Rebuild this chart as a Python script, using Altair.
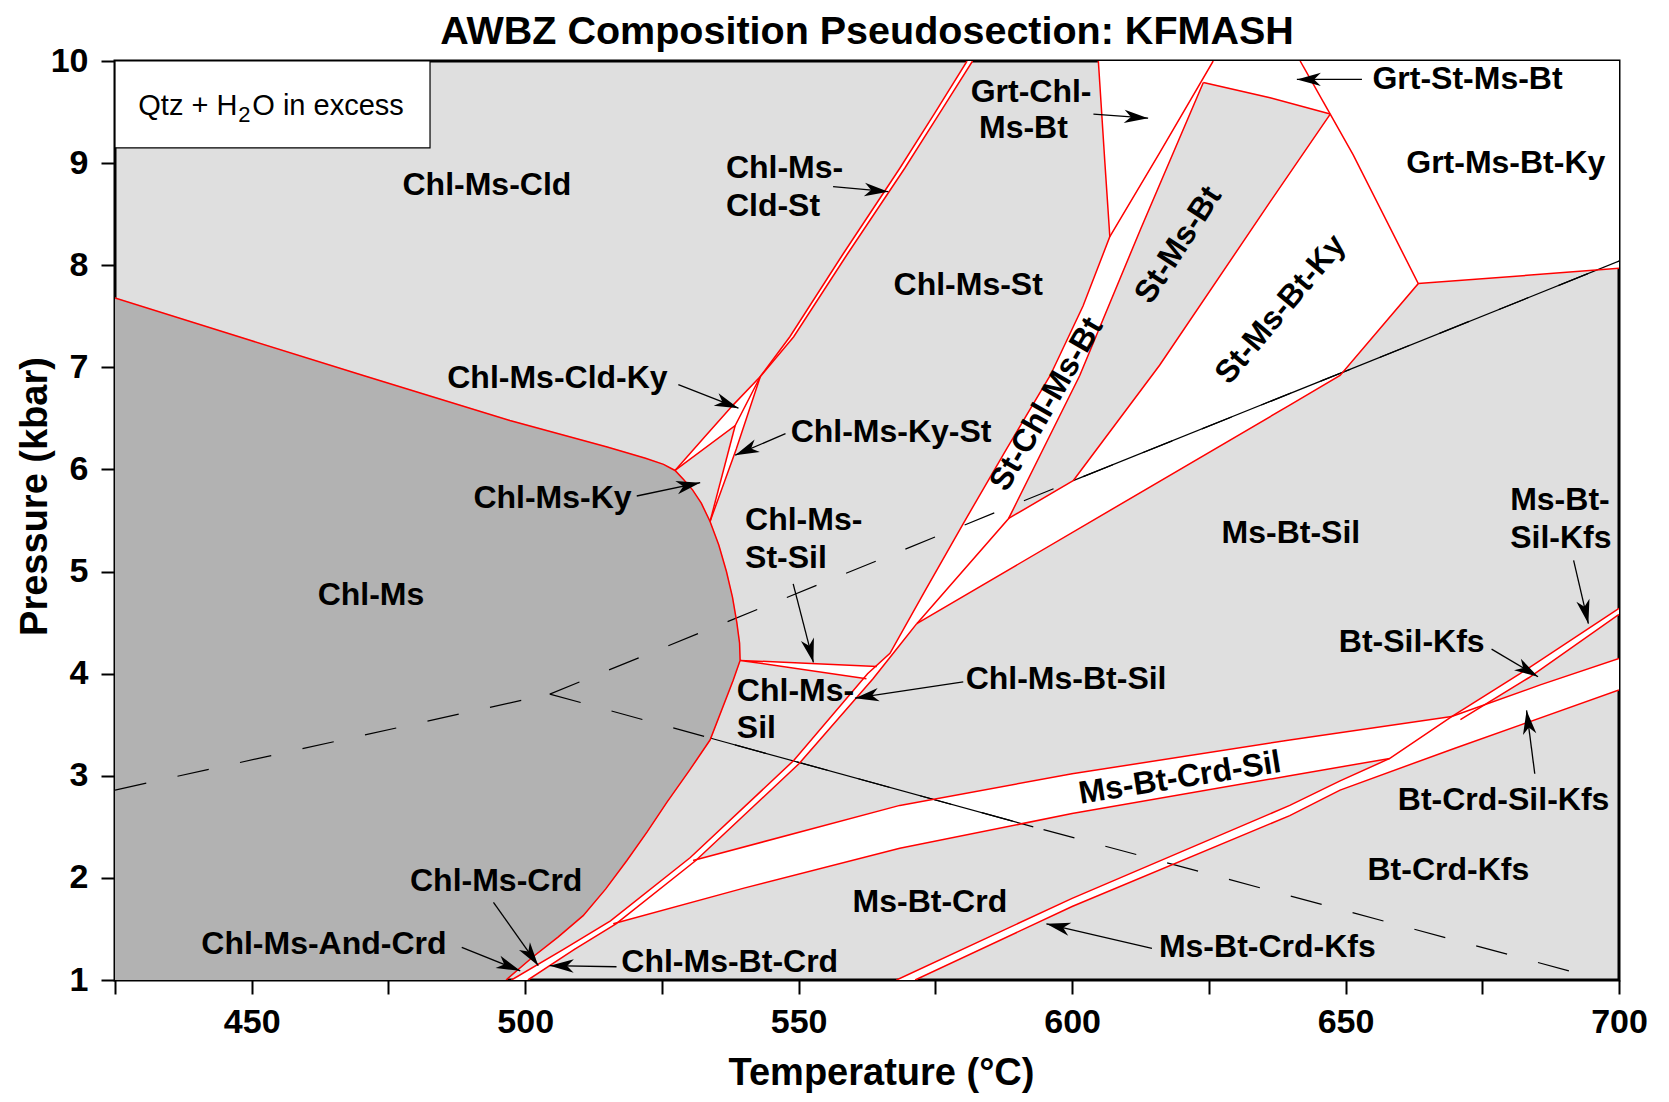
import math
import altair as alt
import pandas as pd

# ------------------------------------------------------------------ data
T_DOMAIN = [425, 700]
P_DOMAIN = [1, 10]
X_TICKS = list(range(425, 701, 25))
Y_TICKS = list(range(1, 11))
PLOT_W, PLOT_H = 1504, 919

# boundaries (T degC, P kbar)
CHL_MS_BND = [(425.0, 7.68), (450.0, 7.26), (470.4, 6.92), (497.2, 6.48), (515.0, 6.22),
              (522.0, 6.11), (525.3, 6.05), (527.4, 5.99), (529.0, 5.90), (530.6, 5.80),
              (532.2, 5.67), (533.8, 5.49), (535.4, 5.26), (536.8, 5.00), (537.9, 4.75),
              (538.7, 4.50), (539.2, 4.30), (539.3, 4.13), (538.0, 3.93), (533.8, 3.35),
              (530.0, 3.05), (525.9, 2.74), (522.3, 2.45), (518.6, 2.17), (514.7, 1.89),
              (510.6, 1.63), (506.0, 1.42), (501.5, 1.23), (496.5, 1.00)]
CLD_BND = [(527.4, 5.99), (533.0, 6.33), (538.0, 6.63), (543.0, 6.91), (548.4, 7.30),
           (558.0, 8.10), (568.5, 8.95), (575.0, 9.50), (580.8, 10.0)]
ST_BND_LOW = [(533.8, 5.49), (538.6, 6.20), (543.0, 6.91)]
ST_BND_UP = [(543.0, 6.91), (549.1, 7.30), (558.8, 8.10), (569.4, 8.95), (575.9, 9.50), (581.8, 10.0)]
KY_WEDGE = [(527.4, 5.99), (538.4, 6.43), (543.0, 6.91)]
KY_SLIVER = [(538.4, 6.43), (533.8, 5.49)]
ST_SIL_WEDGE = [(562.4, 3.95), (539.3, 4.13), (564.3, 4.07)]
BT_LEFT = [(497.5, 1.00), (507.0, 1.30), (515.6, 1.58), (530.2, 2.20), (549.1, 3.15), (562.6, 4.00),
           (566.7, 4.20), (573.0, 4.80), (580.1, 5.47), (588.0, 6.20), (596.0, 6.92), (602.0, 7.60),
           (606.9, 8.28), (606.0, 9.00), (604.8, 10.0)]
BT_RIGHT = [(500.5, 1.00), (509.0, 1.30), (516.6, 1.55), (531.2, 2.17), (550.1, 3.12), (563.6, 3.95),
            (568.5, 4.28), (571.6, 4.49)]
ST_MS_BT_LEFT = [(571.6, 4.49), (588.4, 5.52), (601.4, 6.92), (612.5, 8.35), (624.0, 9.79)]
GRT_DIAG = [(606.9, 8.28), (616.0, 9.10), (625.8, 10.0)]
ST_MS_BT_BASE = [(588.4, 5.52), (600.2, 5.89)]
ST_MS_BT_RIGHT = [(600.2, 5.89), (616.0, 7.02), (636.2, 8.62), (647.2, 9.48)]
ST_MS_BT_TOP = [(624.0, 9.79), (636.2, 9.64), (647.2, 9.48)]
GRT_ST_LINE = [(641.7, 10.0), (647.2, 9.48)]
KY_FIELD_RIGHT = [(647.2, 9.48), (651.4, 9.08), (663.3, 7.82), (649.0, 6.92), (639.8, 6.63), (571.6, 4.49)]
GRT_BASE = [(663.3, 7.82), (700.0, 7.97)]
CRD_SIL_UP = [(530.7, 2.17), (568.5, 2.71), (600.0, 3.02), (639.8, 3.35), (669.4, 3.58)]
CRD_SIL_LOW = [(516.1, 1.55), (540.0, 1.90), (568.5, 2.29), (600.0, 2.63), (639.8, 3.00), (658.1, 3.17)]
KFS_UP = [(567.9, 1.00), (600.0, 1.80), (639.8, 2.71), (649.0, 2.95), (658.1, 3.17), (669.4, 3.58),
          (681.9, 4.00), (700.0, 4.64)]
KFS_UP2 = [(671.0, 3.55), (683.5, 3.96), (700.0, 4.58)]
KFS_LOW = [(571.3, 1.00), (600.0, 1.72), (639.8, 2.61), (649.0, 2.86), (670.0, 3.27), (700.0, 3.84)]
KFS_CRD_UP = [(669.4, 3.58), (685.6, 3.89), (700.0, 4.15)]

# Al2SiO5 lines
TRIPLE = (504.5, 3.80)
KY_AND = [(425.0, 2.86), TRIPLE]
KY_SIL = [TRIPLE, (600.2, 5.89), (700.0, 8.04)]
KY_SIL_SOLID = [(600.2, 5.89), (700.0, 8.04)]
AND_SIL = [TRIPLE, (533.8, 3.37), (592.9, 2.50), (695.0, 1.03)]
AND_SIL_SOLID = [(533.8, 3.37), (592.9, 2.50)]

# labels: text, T, P, angle
LABELS_C = [
    ("Chl-Ms-Cld", 493.0, 8.79, 0), ("Grt-Chl-", 592.5, 9.70, 0), ("Ms-Bt", 591.1, 9.34, 0),
    ("Grt-St-Ms-Bt", 672.3, 9.82, 0), ("Grt-Ms-Bt-Ky", 679.3, 9.00, 0), ("Chl-Ms-St", 581.0, 7.81, 0),
    ("St-Ms-Bt", 619.4, 8.20, 303), ("St-Ms-Bt-Ky", 638.1, 7.57, 310), ("St-Chl-Ms-Bt", 595.3, 6.64, 300),
    ("Chl-Ms-Cld-Ky", 505.9, 6.90, 0), ("Chl-Ms-Ky-St", 566.9, 6.37, 0), ("Chl-Ms-Ky", 505.0, 5.72, 0),
    ("Ms-Bt-Sil", 640.0, 5.38, 0), ("Chl-Ms", 471.8, 4.77, 0), ("Bt-Sil-Kfs", 662.1, 4.31, 0),
    ("Chl-Ms-Bt-Sil", 598.9, 3.95, 0), ("Ms-Bt-Crd-Sil", 619.7, 2.98, 351),
    ("Bt-Crd-Sil-Kfs", 678.9, 2.76, 0), ("Bt-Crd-Kfs", 668.8, 2.08, 0), ("Ms-Bt-Crd", 574.0, 1.76, 0),
    ("Chl-Ms-Crd", 494.7, 1.97, 0), ("Chl-Ms-And-Crd", 463.2, 1.35, 0), ("Chl-Ms-Bt-Crd", 537.4, 1.18, 0),
    ("Ms-Bt-Crd-Kfs", 635.7, 1.32, 0),
]
LABELS_L = [
    ("Chl-Ms-", 536.7, 8.955), ("Cld-St", 536.7, 8.58),
    ("Chl-Ms-", 540.2, 5.505), ("St-Sil", 540.2, 5.135),
    ("Ms-Bt-", 680.1, 5.70), ("Sil-Kfs", 680.1, 5.325),
    ("Chl-Ms-", 538.7, 3.83), ("Sil", 538.7, 3.47),
]
BOX = (425.0, 482.6, 9.15, 10.0)
# legend text pieces: text, T (left edge), P (baseline), font size
BOX_TEXT = [("Qtz + H", 429.26, 9.468, 29), ("2", 447.55, 9.405, 22), ("O in excess", 450.10, 9.468, 29)]

# arrows: start T,P -> tip T,P
ARROWS = [
    (556.3, 8.77, 566.4, 8.72), (603.9, 9.48, 613.9, 9.44), (653.0, 9.82, 641.1, 9.82),
    (528.0, 6.83, 539.0, 6.60), (547.6, 6.35, 538.4, 6.14), (520.4, 5.74, 532.0, 5.87),
    (549.0, 4.88, 552.7, 4.11), (580.1, 3.92, 560.3, 3.76), (488.4, 1.32, 499.1, 1.09),
    (494.2, 1.76, 502.4, 1.14), (516.7, 1.13, 504.5, 1.14), (614.6, 1.31, 595.3, 1.55),
    (684.6, 3.02, 683.1, 3.64), (691.7, 5.11, 694.4, 4.49), (676.7, 4.24, 685.2, 3.97),
]

TITLE = "AWBZ Composition Pseudosection: KFMASH"
FONT = "Liberation Sans"
RED = "#ff0000"
LIGHT = "#dfdfdf"
DARK = "#b2b2b2"
LABEL_SIZE = 32

# ------------------------------------------------------------------ tables
def rev(seq):
    return list(reversed(seq))

WHITE_POLYS = {
    "cld_st": CLD_BND[3:] + rev(ST_BND_UP),
    "cld_ky": CLD_BND[:4] + [KY_WEDGE[1]],
    "ky_st": [KY_SLIVER[1], KY_SLIVER[0]] + rev(ST_BND_LOW)[:-1],
    "st_sil": ST_SIL_WEDGE,
    "big": BT_LEFT + [(700.0, 10.0)] + rev(GRT_BASE) + KY_FIELD_RIGHT[3:] + rev(BT_RIGHT)[1:],
    "crd_sil": CRD_SIL_UP + [KFS_UP[4]] + rev(CRD_SIL_LOW),
    "crd_kfs": KFS_UP[:4] + rev(KFS_LOW[:4]),
    "bcsk": KFS_UP[3:6] + KFS_CRD_UP[1:] + [(700.0, 3.84)] + rev(KFS_LOW[3:5]),
    "mbsk": KFS_UP[5:] + rev(KFS_UP2),
}
GRAY_POLYS = {"st_ms_bt": ST_MS_BT_LEFT[1:] + ST_MS_BT_TOP[1:] + rev(ST_MS_BT_RIGHT) + [ST_MS_BT_BASE[0]]}
DARK_POLYS = {"chl_ms": [(425.0, 1.0)] + CHL_MS_BND}

RED_LINES = {
    "chl_ms": CHL_MS_BND, "cld": CLD_BND, "st_low": ST_BND_LOW, "st_up": ST_BND_UP,
    "ky_wedge": KY_WEDGE, "ky_sliver": KY_SLIVER, "st_sil": ST_SIL_WEDGE,
    "bt_left": BT_LEFT, "bt_right": BT_RIGHT, "smb_left": ST_MS_BT_LEFT, "grt_diag": GRT_DIAG,
    "smb_base": ST_MS_BT_BASE, "smb_right": ST_MS_BT_RIGHT, "smb_top": ST_MS_BT_TOP,
    "grt_st": GRT_ST_LINE, "ky_right": KY_FIELD_RIGHT, "grt_base": GRT_BASE,
    "crd_up": CRD_SIL_UP, "crd_low": CRD_SIL_LOW, "kfs_up": KFS_UP, "kfs_up2": KFS_UP2,
    "kfs_low": KFS_LOW, "kfs_crd": KFS_CRD_UP,
}


def poly_df(d):
    rows = []
    for name, pts in d.items():
        for i, (t, p) in enumerate(pts):
            rows.append({"id": name, "i": i, "T": t, "P": p})
    return pd.DataFrame(rows)


xs = alt.Scale(domain=T_DOMAIN, nice=False, zero=False)
ys = alt.Scale(domain=P_DOMAIN, nice=False, zero=False)
X = alt.X("T:Q", scale=xs, axis=alt.Axis(
    values=X_TICKS, labelExpr="datum.value % 50 == 0 ? datum.label : ''",
    title="Temperature (\u00b0C)", titleX=766, titleY=104, titleBaseline="alphabetic",
    titleAlign="center", labelPadding=11, tickSize=14))
Y = alt.Y("P:Q", scale=ys, axis=alt.Axis(
    values=Y_TICKS, format="d", title="Pressure (kbar)", titleX=-69, titleY=435, titleAngle=270,
    titleBaseline="alphabetic", titleAlign="center", labelPadding=13, tickSize=14))
Xp = alt.X("T:Q", scale=xs)
Yp = alt.Y("P:Q", scale=ys)


def polys(d, color):
    return alt.Chart(poly_df(d)).mark_line(fill=color, stroke=color, strokeWidth=0.6, clip=True).encode(
        x=Xp, y=Yp, detail="id:N", order="i:Q")


base = alt.Chart(poly_df({"f": [(425, 1), (700, 10)]})).mark_point(opacity=0).encode(x=X, y=Y)

layers = [base, polys(WHITE_POLYS, "white"), polys(GRAY_POLYS, LIGHT), polys(DARK_POLYS, DARK)]

# legend box
box_df = pd.DataFrame([{"T": BOX[0], "T2": BOX[1], "P": BOX[2], "P2": BOX[3]}])
layers.append(alt.Chart(box_df).mark_rect(fill="white", stroke="black", strokeWidth=1.2).encode(
    x=Xp, x2="T2:Q", y=Yp, y2="P2:Q"))
for txt, t, p, fs in BOX_TEXT:
    layers.append(alt.Chart(pd.DataFrame([{"t": txt, "T": t, "P": p}]))
                  .mark_text(font=FONT, fontSize=fs, baseline="alphabetic", align="left", color="black")
                  .encode(x=Xp, y=Yp, text="t:N"))

# Al2SiO5 lines
dashed = poly_df({"ka": KY_AND, "ks": KY_SIL, "as": AND_SIL})
solid = poly_df({"ks": KY_SIL_SOLID, "as": AND_SIL_SOLID})
layers.append(alt.Chart(dashed).mark_line(color="black", strokeWidth=1.2, strokeDash=[32, 32], clip=True)
              .encode(x=Xp, y=Yp, detail="id:N", order="i:Q"))
layers.append(alt.Chart(solid).mark_line(color="black", strokeWidth=1.2, clip=True)
              .encode(x=Xp, y=Yp, detail="id:N", order="i:Q"))

# red reaction lines
layers.append(alt.Chart(poly_df(RED_LINES)).mark_line(color=RED, strokeWidth=1.5, clip=True)
              .encode(x=Xp, y=Yp, detail="id:N", order="i:Q"))

# arrows
sx = PLOT_W / (T_DOMAIN[1] - T_DOMAIN[0])
sy = PLOT_H / (P_DOMAIN[1] - P_DOMAIN[0])
arr_rows, head_rows = [], []
for k, (t0, p0, t1, p1) in enumerate(ARROWS):
    arr_rows.append({"id": k, "i": 0, "T": t0, "P": p0})
    arr_rows.append({"id": k, "i": 1, "T": t1, "P": p1})
    ang = math.degrees(math.atan2(-(p1 - p0) * sy, (t1 - t0) * sx)) % 360
    head_rows.append({"T": t1, "P": p1, "ang": ang})
layers.append(alt.Chart(pd.DataFrame(arr_rows)).mark_line(color="black", strokeWidth=1.3)
              .encode(x=Xp, y=Yp, detail="id:N", order="i:Q"))
layers.append(alt.Chart(pd.DataFrame(head_rows)).mark_point(
    shape="M0,0L-1,-0.28L-0.72,0L-1,0.28Z", size=2300, filled=True, color="black", opacity=1,
    strokeWidth=0).encode(x=Xp, y=Yp, angle=alt.Angle("ang:Q", scale=None)))

# labels
lc = pd.DataFrame([{"t": a, "T": b, "P": c, "ang": d} for a, b, c, d in LABELS_C])
ll = pd.DataFrame([{"t": a, "T": b, "P": c} for a, b, c in LABELS_L])
layers.append(alt.Chart(lc).mark_text(font=FONT, fontSize=LABEL_SIZE, fontWeight="bold", baseline="middle",
                                      align="center", color="black")
              .encode(x=Xp, y=Yp, text="t:N", angle=alt.Angle("ang:Q", scale=None)))
layers.append(alt.Chart(ll).mark_text(font=FONT, fontSize=LABEL_SIZE, fontWeight="bold", baseline="middle",
                                      align="left", color="black")
              .encode(x=Xp, y=Yp, text="t:N"))

# title
layers.append(alt.Chart(pd.DataFrame([{"t": TITLE}])).mark_text(
    font=FONT, fontSize=39.5, fontWeight="bold", baseline="alphabetic", align="center", color="black")
    .encode(x=alt.value(752), y=alt.value(-17), text="t:N"))

chart = alt.layer(*layers).properties(
    width=PLOT_W, height=PLOT_H, autosize=alt.AutoSizeParams(type="none"),
    padding={"left": 107, "top": 53, "right": 42, "bottom": 114},
).configure_view(fill=LIGHT, stroke="black", strokeWidth=3).configure_axis(
    domain=False, grid=False, tickColor="black", tickWidth=2, labelFont=FONT, labelFontSize=34,
    labelFontWeight="bold", labelColor="black", labelFlush=False, labelOverlap=False,
    titleFont=FONT, titleFontSize=38, titleFontWeight="bold", titleColor="black")

chart.save("out.html", embed_options={"renderer": "svg", "actions": False})
